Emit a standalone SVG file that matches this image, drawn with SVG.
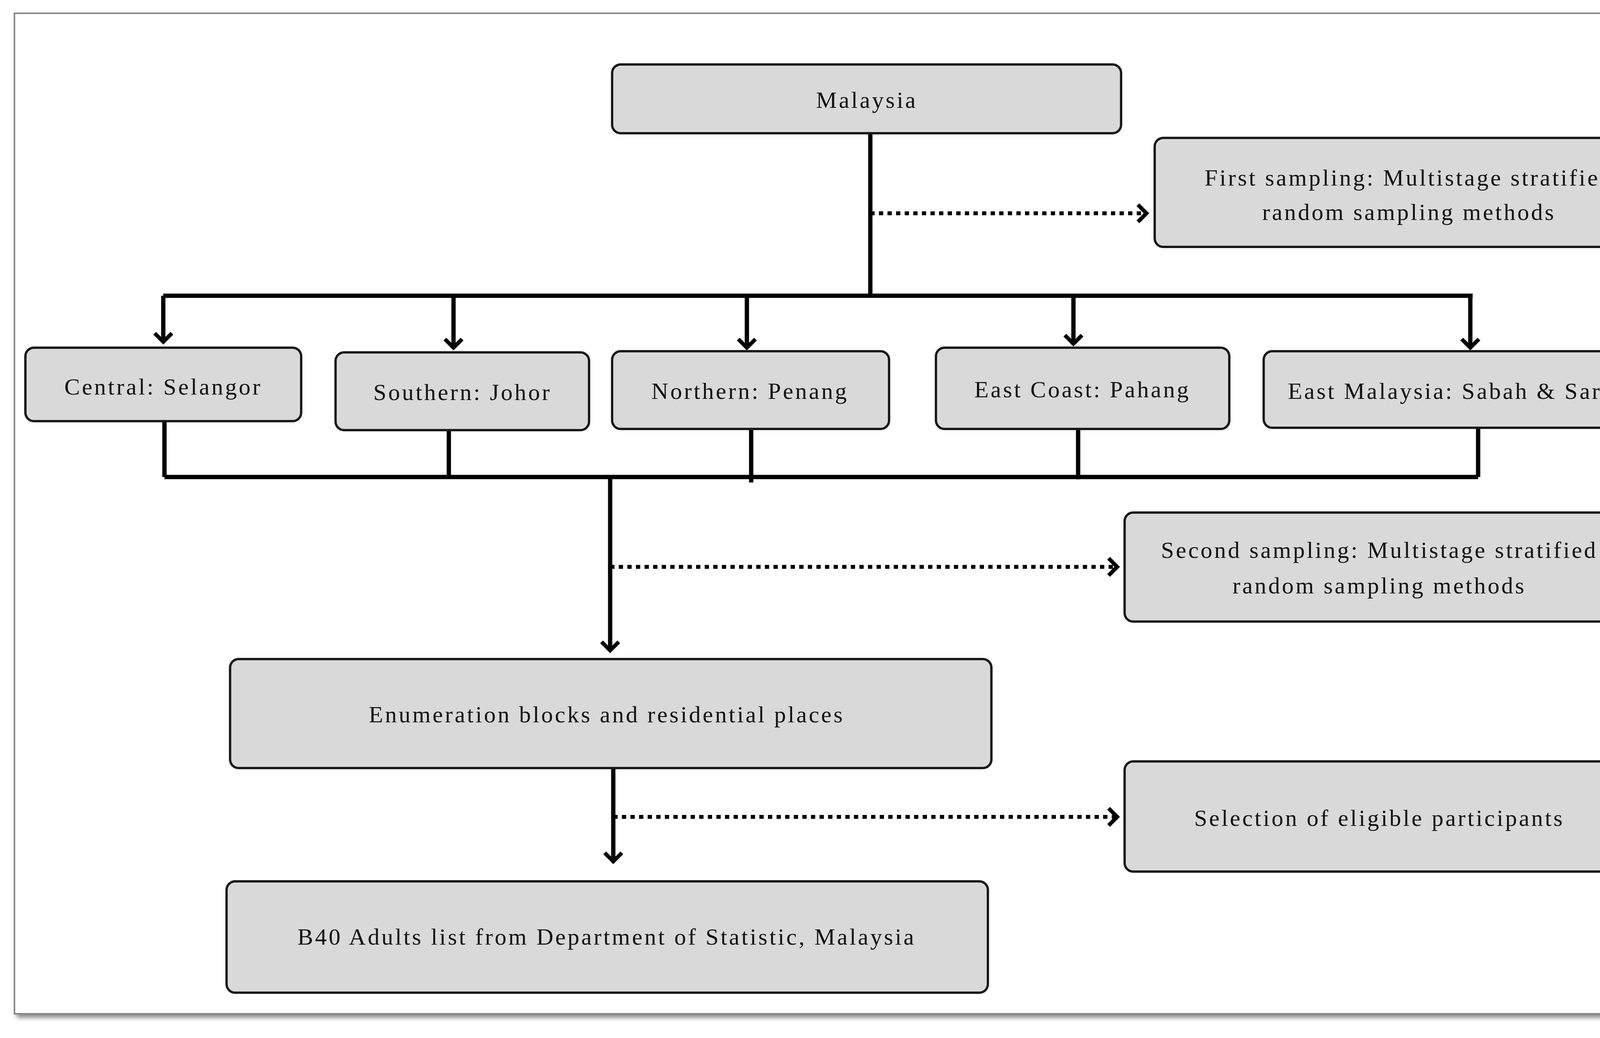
<svg xmlns="http://www.w3.org/2000/svg" width="4460" height="2657" viewBox="0 0 4460 2657">
<style>
.box{fill:#d9d9d9;stroke:#1a1a1a;stroke-width:6}
.t{font-family:"Liberation Serif","Times New Roman",serif;font-size:60px;letter-spacing:5px;fill:#111;text-anchor:middle;dominant-baseline:central}
.c{fill:none;stroke:#000;stroke-width:11}
.d{fill:none;stroke:#000;stroke-width:10;stroke-dasharray:11 11}
</style>
<defs>
<marker id="a" markerUnits="userSpaceOnUse" markerWidth="60" markerHeight="60" refX="30" refY="30" orient="auto" viewBox="0 0 60 60">
<path d="M8,8 L30,30 L8,52" fill="none" stroke="#000" stroke-width="10"/>
</marker>
<filter id="sh"><feDropShadow dx="8" dy="8" stdDeviation="6" flood-color="#888"/></filter>
</defs>
<rect x="37" y="34" width="4367" height="2561" fill="#fff" stroke="#888" stroke-width="4" filter="url(#sh)"/>
<g id="connectors">
<path class="c" d="M2228,341 V757"/>
<path class="d" d="M2228,546 H2935" marker-end="url(#a)"/>
<path class="c" d="M418,757 H3770"/>
<path class="c" d="M418,757 V875" marker-end="url(#a)"/>
<path class="c" d="M1161,757 V890" marker-end="url(#a)"/>
<path class="c" d="M1912,757 V890" marker-end="url(#a)"/>
<path class="c" d="M2748,757 V880" marker-end="url(#a)"/>
<path class="c" d="M3764,757 V890" marker-end="url(#a)"/>
<path class="c" d="M421,1078 V1221 M1149,1101 V1221 M1923,1098 V1235 M2760,1098 V1227 M3784,1095 V1221 M421,1221 H3784"/>
<path class="c" d="M1562,1221 V1665" marker-end="url(#a)"/>
<path class="d" d="M1562,1451 H2860" marker-end="url(#a)"/>
<path class="c" d="M1570,1966 V2205" marker-end="url(#a)"/>
<path class="d" d="M1570,2091 H2860" marker-end="url(#a)"/>
</g>
<g id="malaysia"><rect class="box" x="1567" y="165" width="1303" height="176" rx="22"/><text class="t" x="2219" y="256">Malaysia</text></g>
<g id="first"><rect class="box" x="2956" y="353" width="1303" height="279" rx="22"/><text class="t" x="3607" y="455">First sampling: Multistage stratified</text><text class="t" x="3607" y="543">random sampling methods</text></g>
<g id="central"><rect class="box" x="65" y="890" width="706" height="188" rx="22"/><text class="t" x="418" y="990">Central: Selangor</text></g>
<g id="southern"><rect class="box" x="859" y="902" width="649" height="199" rx="22"/><text class="t" x="1184" y="1004">Southern: Johor</text></g>
<g id="northern"><rect class="box" x="1567" y="899" width="709" height="199" rx="22"/><text class="t" x="1920" y="1001">Northern: Penang</text></g>
<g id="eastcoast"><rect class="box" x="2396" y="890" width="751" height="208" rx="22"/><text class="t" x="2771" y="997">East Coast: Pahang</text></g>
<g id="eastmalaysia"><rect class="box" x="3235" y="899" width="1078" height="196" rx="22"/><text class="t" x="3772" y="1001">East Malaysia: Sabah &amp; Sarawak</text></g>
<g id="second"><rect class="box" x="2879" y="1312" width="1303" height="279" rx="22"/><text class="t" x="3531" y="1408">Second sampling: Multistage stratified</text><text class="t" x="3531" y="1499">random sampling methods</text></g>
<g id="enum"><rect class="box" x="589" y="1687" width="1949" height="279" rx="22"/><text class="t" x="1553" y="1829">Enumeration blocks and residential places</text></g>
<g id="selection"><rect class="box" x="2879" y="1949" width="1303" height="282" rx="22"/><text class="t" x="3531" y="2094">Selection of eligible participants</text></g>
<g id="b40"><rect class="box" x="580" y="2256" width="1949" height="285" rx="22"/><text class="t" x="1553" y="2398">B40 Adults list from Department of Statistic, Malaysia</text></g>
</svg>
